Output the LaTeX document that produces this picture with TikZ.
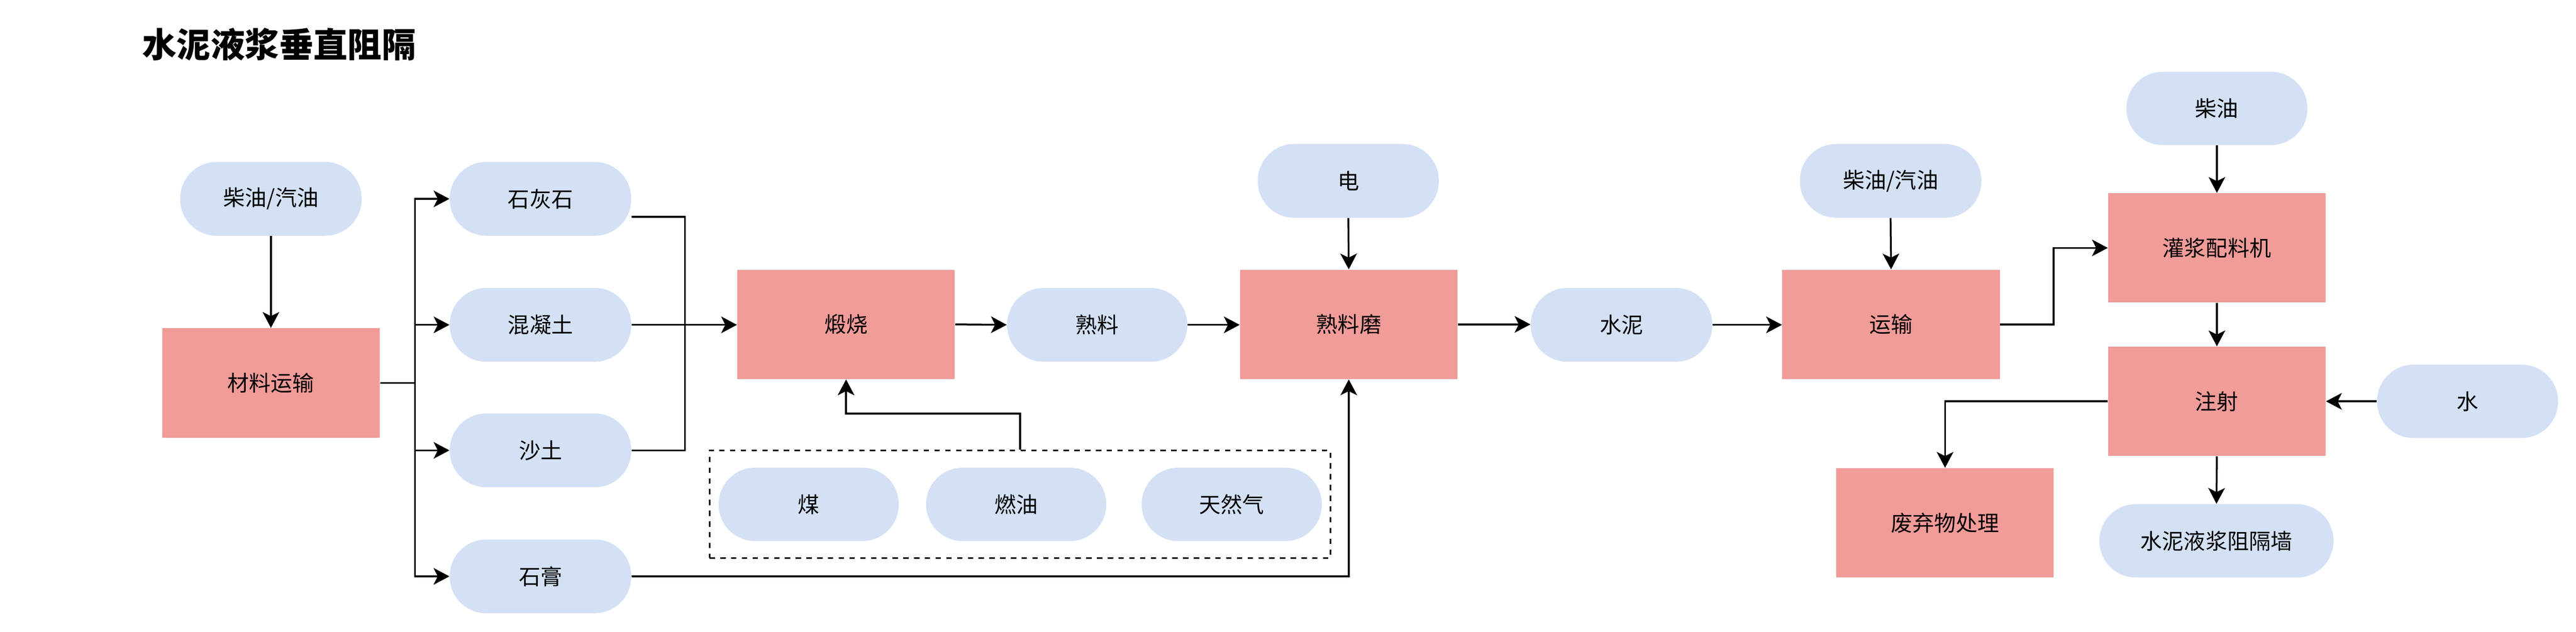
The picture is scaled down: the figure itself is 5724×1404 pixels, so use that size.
\documentclass[tikz,border=0pt]{standalone}
\usepackage{fontspec}
\setmainfont{Noto Sans CJK SC}
\usetikzlibrary{arrows.meta}
\definecolor{pillfill}{HTML}{D4E1F5}
\definecolor{boxfill}{HTML}{F19C99}
\begin{document}
\begin{tikzpicture}[x=0.01cm,y=-0.01cm,
  pill/.style={fill=pillfill, draw=none, rounded corners=0.81cm, minimum width=4.03cm, minimum height=1.64cm, inner sep=0pt, font=\fontsize{13.7pt}{16pt}\selectfont},
  proc/.style={fill=boxfill, draw=none, minimum width=4.83cm, minimum height=2.43cm, inner sep=0pt, font=\fontsize{13.7pt}{16pt}\selectfont},
  conn/.style={line width=1.14pt, -{Stealth[length=10pt, width=10.5pt, inset=2.6pt]}},
  plain/.style={line width=1.14pt}]
\useasboundingbox (0,0) rectangle (5724,1404);
\node[anchor=west, inner sep=0pt, font=\fontsize{21.6pt}{24pt}\selectfont\bfseries] (title) at (316,99) {水泥液浆垂直阻隔};
% nodes
\node[pill] (p1) at (602,442) {柴油/汽油};
\node[proc] (r1) at (602,851) {材料运输};
\node[pill] (p2) at (1201,442) {石灰石};
\node[pill] (p3) at (1201,722) {混凝土};
\node[pill] (p4) at (1201,1001) {沙土};
\node[pill] (p5) at (1201,1281) {石膏};
\node[proc] (r2) at (1880,721) {煅烧};
\node[pill, minimum width=4.0cm] (p6) at (2438,722) {熟料};
\node[proc] (r3) at (2997,721) {熟料磨};
\node[pill, minimum width=4.02cm] (p7) at (2996,402) {电};
\node[draw, dashed, line width=0.85pt, dash pattern=on 3.4pt off 3.4pt, minimum width=13.79cm, minimum height=2.39cm, inner sep=0pt] (fuel) at (2266.5,1120.5) {};
\node[pill, minimum width=4.0cm, minimum height=1.63cm] (p8) at (1797,1121) {煤};
\node[pill, minimum width=4.0cm, minimum height=1.63cm] (p9) at (2258,1121) {燃油};
\node[pill, minimum width=4.0cm, minimum height=1.63cm] (p10) at (2737,1121) {天然气};
\node[pill] (p11) at (3603,722) {水泥};
\node[proc] (r4) at (4202,721) {运输};
\node[pill] (p12) at (4201,402) {柴油/汽油};
\node[pill, minimum width=4.02cm, minimum height=1.63cm] (p13) at (4926,241) {柴油};
\node[proc] (r5) at (4926,551) {灌浆配料机};
\node[proc] (r6) at (4926,892) {注射};
\node[pill, minimum width=4.02cm, minimum height=1.63cm] (p14) at (5483,892) {水};
\node[proc] (r7) at (4322,1162) {废弃物处理};
\node[pill, minimum width=5.2cm, minimum height=1.63cm] (p15) at (4925,1202) {水泥液浆阻隔墙};
\coordinate (bj) at (922,851);
\coordinate (jn) at (1522,722);
% connectors
\draw[conn] (p1.south) -- (r1.north);
\draw[plain] (r1.east) -- (bj);
\draw[conn] (bj) |- (p2.west);
\draw[conn] (bj) |- (p3.west);
\draw[conn] (bj) |- (p4.west);
\draw[conn] (bj) |- (p5.west);
\draw[plain] ([yshift=-0.4cm]p2.east) -| (jn) |- (p4.east);
\draw[conn] (p3.east) -- (p3.east -| r2.west);
\draw[conn] (r2.east) -- (p6.west);
\draw[conn] (p6.east) -- (p6.east -| r3.west);
\draw[conn] (p7.south) -- (r3.north);
\draw[conn] (p5.east) -| (r3.south);
\draw[conn] (fuel.north) -- ++(0,-80) -| (r2.south);
\draw[conn] (r3.east) -- (r3.east -| p11.west);
\draw[conn] (p11.east) -- (p11.east -| r4.west);
\draw[conn] (p12.south) -- (r4.north);
\draw[conn] (r4.east) -- ++(119,0) |- (r5.west);
\draw[conn] (p13.south) -- (r5.north);
\draw[conn] (r5.south) -- (r6.north);
\draw[conn] (p14.west) -- (r6.east);
\draw[conn] (r6.west) -| (r7.north);
\draw[conn] (r6.south) -- (p15.north);
\end{tikzpicture}
\end{document}
